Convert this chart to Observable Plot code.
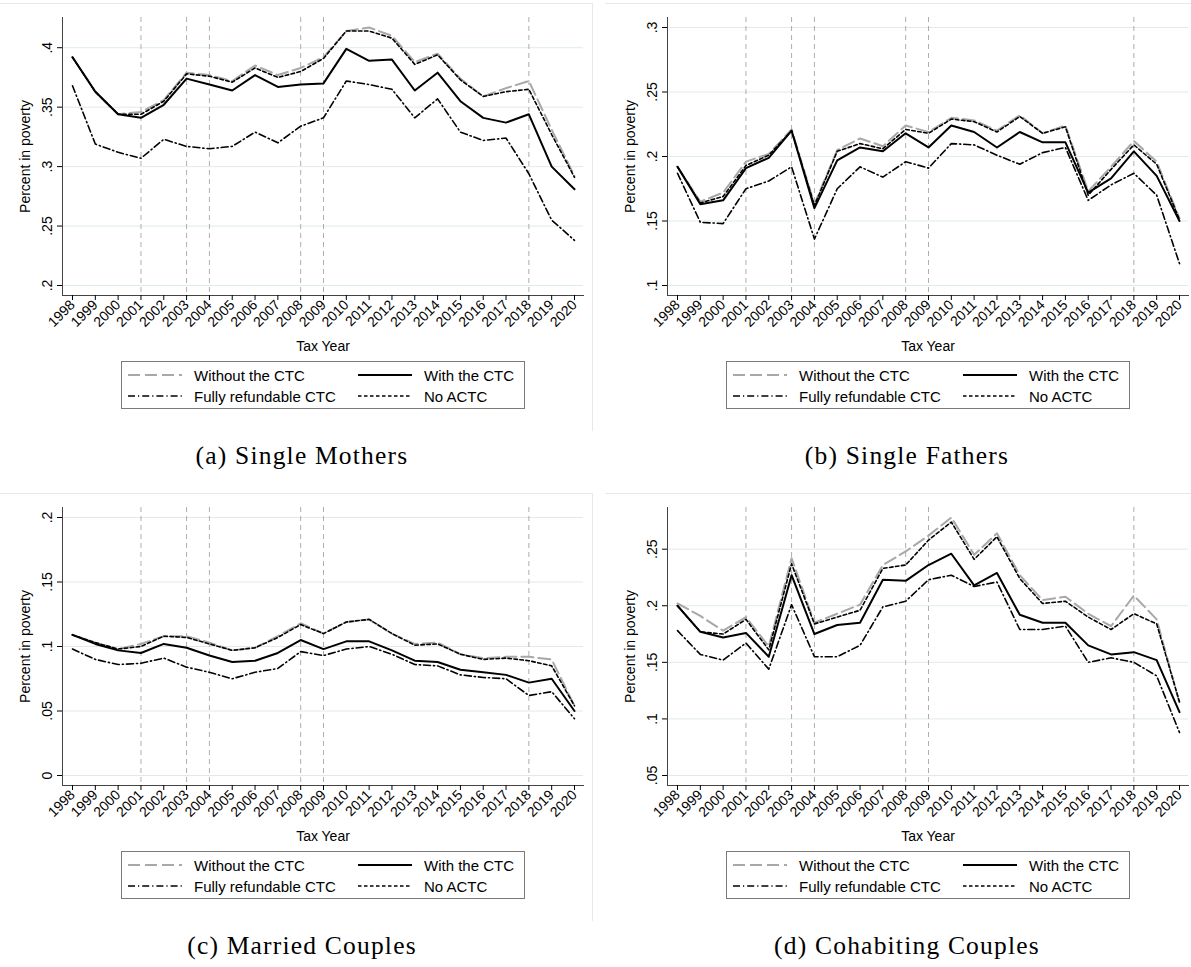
<!DOCTYPE html>
<html>
<head>
<meta charset="utf-8">
<script src="https://cdn.jsdelivr.net/npm/d3@7"></script>
<script src="https://cdn.jsdelivr.net/npm/@observablehq/plot@0.6"></script>
<style>
  body { margin: 0; background: #fff; }
  #fig { position: relative; width: 1191px; height: 967px; overflow: hidden; font-family: "Liberation Sans", Arial, sans-serif; }
  .panel { position: absolute; width: 586px; height: 480px; }
  .frame { position: absolute; left: 0; top: 3px; width: 592px; height: 427px; border-top: 1px solid #e3eaec; border-right: 1px solid #e3eaec; }
  .panel svg.plot { position: absolute; left: 0; top: 0; }
  .legend { position: absolute; left: 121px; top: 361px; width: 402px; height: 46px; border: 1px solid #7a7a7a; font-size: 15px; }
  .legend .item { position: absolute; display: flex; align-items: center; height: 20px; }
  .legend .item svg { margin-right: 12px; }
  .caption { position: absolute; left: 0; width: 604px; top: 441px; text-align: center; font-family: "Liberation Serif", serif; font-size: 25.5px; letter-spacing: 1.2px; }
</style>
</head>
<body>
<div id="fig"></div>
<script>
/* Años fiscales */
const years = d3.range(1998, 2021);
/* Años marcados con línea vertical */
const markedYears = [2001, 2003, 2004, 2008, 2009, 2018];

/* (a) Single Mothers */
const ticksA = [0.2, 0.25, 0.3, 0.35, 0.4];
const withoutA = [.392,.363,.344,.346,.356,.379,.377,.372,.385,.377,.383,.392,.414,.417,.410,.388,.395,.374,.359,.366,.372,.331,.292];
const withA    = [.392,.363,.344,.341,.352,.374,.369,.364,.377,.367,.369,.370,.399,.389,.390,.364,.379,.355,.341,.337,.344,.300,.281];
const fullA    = [.368,.319,.312,.307,.323,.317,.315,.317,.329,.320,.334,.341,.372,.369,.365,.341,.357,.329,.322,.324,.294,.255,.238];
const noActcA  = [.392,.363,.344,.344,.355,.378,.376,.371,.383,.375,.380,.391,.414,.414,.408,.386,.394,.373,.359,.363,.365,.327,.291];

/* (b) Single Fathers */
const ticksB = [0.1, 0.15, 0.2, 0.25, 0.3];
const withoutB = [.192,.165,.172,.196,.202,.221,.163,.205,.214,.208,.224,.219,.230,.228,.220,.232,.218,.224,.173,.192,.212,.196,.152];
const withB    = [.192,.163,.166,.191,.199,.220,.160,.197,.207,.204,.218,.207,.224,.219,.207,.219,.211,.211,.172,.183,.204,.185,.150];
const fullB    = [.187,.149,.148,.175,.181,.192,.136,.175,.192,.184,.196,.191,.210,.209,.201,.194,.203,.207,.166,.178,.187,.170,.117];
const noActcB  = [.192,.164,.169,.193,.201,.220,.162,.204,.210,.206,.221,.218,.229,.227,.219,.231,.218,.223,.170,.190,.209,.194,.151];

/* (c) Married Couples */
const ticksC = [0, 0.05, 0.1, 0.15, 0.2];
const withoutC = [.109,.103,.098,.102,.108,.108,.103,.097,.099,.108,.118,.110,.119,.121,.110,.102,.103,.094,.091,.092,.092,.090,.054];
const withC    = [.109,.102,.097,.095,.102,.099,.093,.088,.089,.095,.105,.098,.104,.104,.097,.089,.088,.082,.080,.078,.072,.075,.050];
const fullC    = [.098,.090,.086,.087,.091,.084,.080,.075,.080,.083,.096,.093,.098,.100,.094,.086,.085,.078,.076,.075,.062,.065,.044];
const noActcC  = [.109,.103,.098,.100,.108,.107,.102,.097,.099,.107,.117,.110,.119,.121,.110,.101,.102,.094,.090,.091,.089,.085,.054];

/* (d) Cohabiting Couples */
const ticksD = [0.05, 0.1, 0.15, 0.2, 0.25];
const withoutD = [.202,.191,.178,.190,.164,.242,.185,.193,.201,.236,.248,.262,.278,.245,.264,.227,.205,.208,.193,.182,.209,.188,.114];
const withD    = [.200,.177,.172,.176,.155,.227,.175,.183,.185,.223,.222,.236,.246,.218,.229,.192,.185,.185,.165,.157,.159,.152,.106];
const fullD    = [.178,.157,.152,.167,.144,.201,.155,.155,.165,.199,.204,.223,.227,.217,.221,.179,.179,.182,.150,.154,.150,.138,.088];
const noActcD  = [.200,.177,.175,.188,.161,.237,.184,.190,.196,.233,.236,.258,.274,.241,.261,.224,.202,.204,.190,.179,.193,.184,.115];

/* Estilos de cada serie (orden de la leyenda) */
const styles = {
  without: {label: "Without the CTC", stroke: "#a8a8a8", dash: "12,5", width: 2},
  with: {label: "With the CTC", stroke: "#000", dash: null, width: 2},
  full: {label: "Fully refundable CTC", stroke: "#000", dash: "7,3,1.2,3", width: 1.6},
  noActc: {label: "No ACTC", stroke: "#000", dash: "3.5,2.5", width: 1.6}
};

const fmt = d => d3.format(".2~f")(d).replace(/^0\./, ".");

function drawPanel(left, top, ticks, series, caption) {
  const panel = d3.select("#fig").append("div").attr("class", "panel")
    .style("left", left + "px").style("top", top + "px");
  panel.append("div").attr("class", "frame");

  const all = Object.values(series).flat();
  const lo = Math.min(ticks[0], d3.min(all));
  const hi = Math.max(ticks[ticks.length - 1], d3.max(all));

  const lineMark = key => {
    const s = styles[key];
    const rows = years.map((y, i) => ({year: y, value: series[key][i]}));
    return Plot.line(rows, {x: "year", y: "value", stroke: s.stroke, strokeWidth: s.width, strokeDasharray: s.dash});
  };

  const chart = Plot.plot({
    width: 586,
    height: 355,
    marginLeft: 62,
    marginRight: 3,
    marginTop: 17,
    marginBottom: 60,
    style: {fontFamily: "Liberation Sans, Arial, sans-serif", fontSize: "14px", color: "#000", background: "transparent"},
    x: {domain: [1998, 2020], insetLeft: 10, insetRight: 9},
    y: {domain: [lo, hi], insetTop: 10, insetBottom: 10},
    marks: [
      Plot.ruleY(ticks, {stroke: "#dfeaec"}),
      Plot.ruleX(markedYears, {stroke: "#adadad", strokeDasharray: "5,4"}),
      lineMark("without"),
      lineMark("with"),
      lineMark("full"),
      lineMark("noActc"),
      Plot.frame({anchor: "left", stroke: "#444"}),
      Plot.frame({anchor: "bottom", stroke: "#444"}),
      Plot.axisY(ticks, {tickFormat: fmt, tickRotate: -90, tickSize: 5, tickPadding: 6,
        label: "Percent in poverty", labelAnchor: "center", labelArrow: "none", labelOffset: 42}),
      Plot.axisX(years, {tickFormat: d => String(d), tickRotate: -45, tickSize: 5, tickPadding: 2,
        label: "Tax Year", labelAnchor: "center", labelArrow: "none", labelOffset: 55})
    ]
  });
  chart.classList.add("plot");
  panel.node().appendChild(chart);

  /* Leyenda */
  const legend = panel.append("div").attr("class", "legend");
  const pos = [
    ["without", 6, 3], ["with", 236, 3],
    ["full", 6, 24], ["noActc", 236, 24]
  ];
  pos.forEach(([key, x, y]) => {
    const s = styles[key];
    const item = legend.append("div").attr("class", "item")
      .style("left", x + "px").style("top", y + "px");
    const sw = item.append("svg").attr("width", 54).attr("height", 10);
    sw.append("line").attr("x1", 0).attr("x2", 54).attr("y1", 5).attr("y2", 5)
      .attr("stroke", s.stroke).attr("stroke-width", s.width)
      .attr("stroke-dasharray", s.dash);
    item.append("span").text(s.label);
  });

  panel.append("div").attr("class", "caption").text(caption);
}

drawPanel(0, 0, ticksA, {without: withoutA, with: withA, full: fullA, noActc: noActcA}, "(a) Single Mothers");
drawPanel(605, 0, ticksB, {without: withoutB, with: withB, full: fullB, noActc: noActcB}, "(b) Single Fathers");
drawPanel(0, 490, ticksC, {without: withoutC, with: withC, full: fullC, noActc: noActcC}, "(c) Married Couples");
drawPanel(605, 490, ticksD, {without: withoutD, with: withD, full: fullD, noActc: noActcD}, "(d) Cohabiting Couples");
</script>
</body>
</html>
